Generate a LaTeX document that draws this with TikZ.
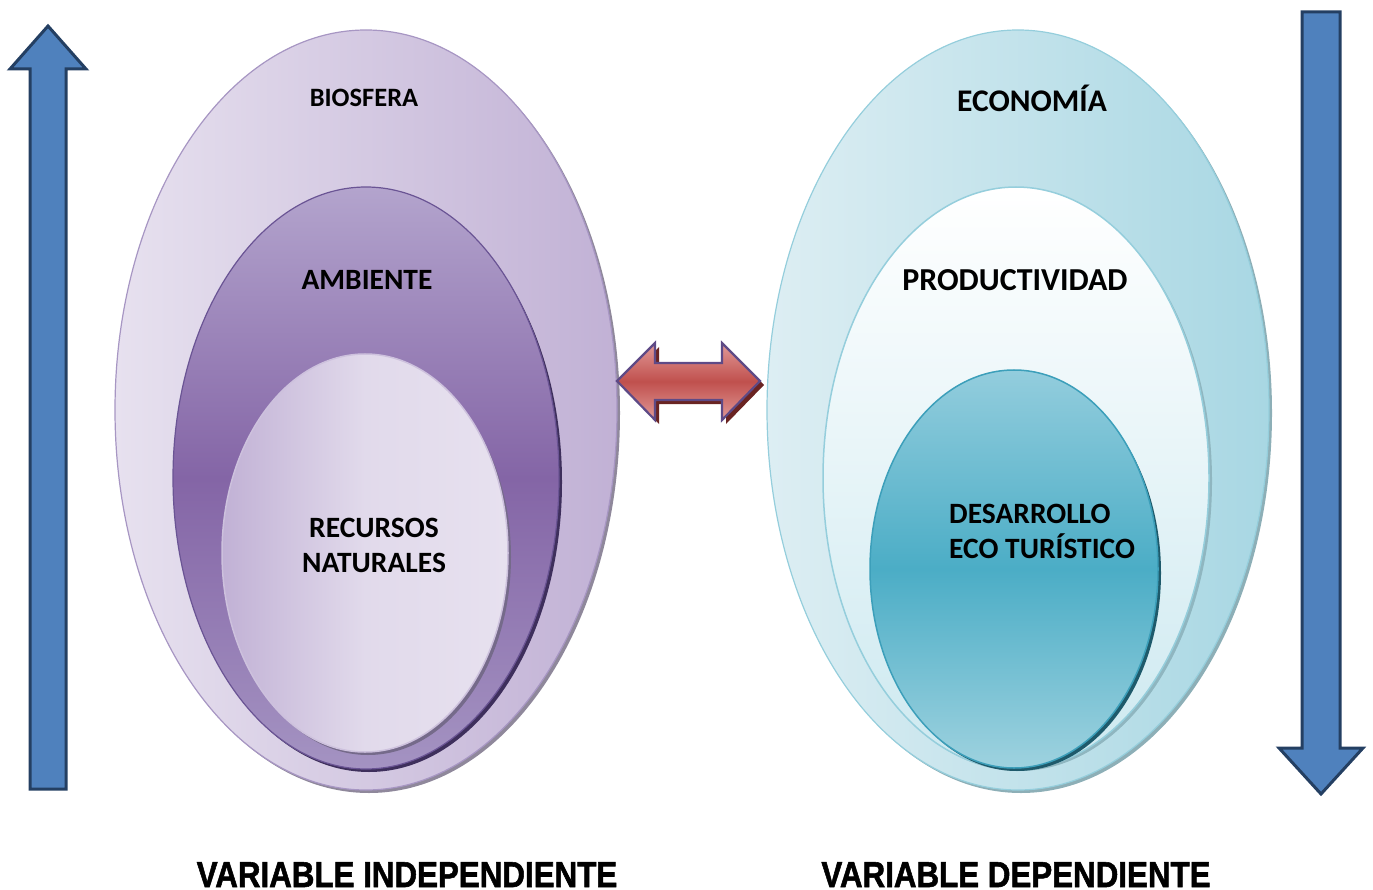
\documentclass[tikz,border=0pt]{standalone}
\usepackage{fontspec}
\setmainfont{Carlito}
\newfontfamily\labelfont[FakeBold=1.6]{Liberation Sans Bold}
\definecolor{purLight}{HTML}{E7E1EF}
\definecolor{purMid}{HTML}{C1B1D5}
\definecolor{purEdge}{HTML}{A796C3}
\definecolor{ambTop}{HTML}{B3A4CD}
\definecolor{ambMid}{HTML}{8465A6}
\definecolor{ambBot}{HTML}{A493C2}
\definecolor{ambEdge}{HTML}{6A5494}
\definecolor{purShadow}{HTML}{3E2F5C}
\definecolor{cyLight}{HTML}{DDEEF3}
\definecolor{cyMid}{HTML}{A8D7E3}
\definecolor{cyEdge}{HTML}{95CEDC}
\definecolor{prodBot}{HTML}{CDE9F0}
\definecolor{desTop}{HTML}{93CDDD}
\definecolor{desMid}{HTML}{4BADC6}
\definecolor{desBot}{HTML}{9ED2DF}
\definecolor{desEdge}{HTML}{3C9FBA}
\definecolor{cyShadow}{HTML}{1E5A6B}
\definecolor{arrBlue}{HTML}{4F81BD}
\definecolor{arrNavy}{HTML}{243F62}
\definecolor{redLight}{HTML}{E19A98}
\definecolor{redMid}{HTML}{C0504D}
\definecolor{redShadow}{HTML}{6A2422}
\definecolor{redEdge}{HTML}{5E4A86}
\tikzset{
  bigtext/.style={font=\bfseries\fontsize{29.5}{35}\selectfont, text=black, inner sep=0pt},
  vartext/.style={font=\labelfont\fontsize{36}{40}\selectfont, text=black, inner sep=0pt, xscale=0.87},
  bluearrow/.style={fill=arrBlue, draw=arrNavy, line width=3pt, line join=miter},
}
\begin{document}
\begin{tikzpicture}[x=1pt, y=-1pt]
\useasboundingbox (0,0) rectangle (1373,890);
% ---------- left group ----------
\fill[gray!60!purEdge] (369,413) ellipse [x radius=251, y radius=380];
\shade[left color=purLight, right color=purMid, draw=purEdge, line width=1.2pt]
  (366,410) ellipse [x radius=251, y radius=380];
\fill[purShadow] (369,482) ellipse [x radius=193, y radius=290];
\shade[top color=ambTop, bottom color=ambBot, middle color=ambMid, draw=ambEdge, line width=1.2pt]
  (366,478) ellipse [x radius=193, y radius=291];
\fill[gray!50!ambEdge] (368,557) ellipse [x radius=143, y radius=198];
\shade[left color=purMid, right color=purLight, middle color=purLight!85!purMid, draw=purMid!80!white, line width=1.5pt]
  (365,553) ellipse [x radius=143, y radius=199];
% ---------- right group ----------
\fill[gray!40!cyEdge] (1021,413) ellipse [x radius=251, y radius=380];
\shade[left color=cyLight, right color=cyMid, draw=cyEdge, line width=1.2pt]
  (1018,410) ellipse [x radius=251, y radius=380];
\fill[gray!30!cyEdge] (1019,481) ellipse [x radius=193, y radius=290];
\shade[top color=white, bottom color=prodBot, draw=cyEdge, line width=1.5pt]
  (1016,478) ellipse [x radius=193, y radius=291];
\fill[cyShadow] (1017,573) ellipse [x radius=144, y radius=198];
\shade[top color=desTop, bottom color=desBot, middle color=desMid, draw=desEdge, line width=1.5pt]
  (1014,569) ellipse [x radius=144, y radius=199];
% ---------- texts ----------
\node[bigtext, anchor=base, font=\bfseries\fontsize{26.5}{30}\selectfont] (biosfera) at (364,107) {BIOSFERA};
\node[bigtext, anchor=base] (ambiente) at (367,290) {AMBIENTE};
\node[bigtext, anchor=base] (recursos) at (374,537) {RECURSOS};
\node[bigtext, anchor=base] (naturales) at (374,572) {NATURALES};
\node[bigtext, anchor=base, font=\bfseries\fontsize{31.5}{36}\selectfont] (economia) at (1032,112) {ECONOMÍA};
\node[bigtext, anchor=base, font=\bfseries\fontsize{32}{36}\selectfont] (productividad) at (1015,291) {PRODUCTIVIDAD};
\node[bigtext, anchor=base west] (desarrollo) at (949,523) {DESARROLLO};
\node[bigtext, anchor=base west] (ecoturistico) at (949,558) {ECO TURÍSTICO};
\node[vartext, anchor=base] (vi) at (407,887) {VARIABLE INDEPENDIENTE};
\node[vartext, anchor=base] (vd) at (1016,887) {VARIABLE DEPENDIENTE};
% ---------- double arrow ----------
\fill[redShadow] (621,385) -- (659,347) -- (659,367) -- (726,367) -- (726,347) -- (764,385)
  -- (726,424) -- (726,404) -- (659,404) -- (659,424) -- cycle;
\shade[top color=redLight, bottom color=redLight, middle color=redMid, draw=redEdge, line width=2.2pt, line join=miter]
  (617,381) -- (655,343) -- (655,363) -- (722,363) -- (722,343) -- (760,381)
  -- (722,420) -- (722,400) -- (655,400) -- (655,420) -- cycle;
% ---------- vertical arrows ----------
\draw[bluearrow] (48,26) -- (86,69) -- (66,69) -- (66,789) -- (30,789) -- (30,69) -- (10,69) -- cycle;
\draw[bluearrow] (1302,12) -- (1340,12) -- (1340,748) -- (1363,748) -- (1321,794) -- (1279,748) -- (1302,748) -- cycle;
\end{tikzpicture}
\end{document}
